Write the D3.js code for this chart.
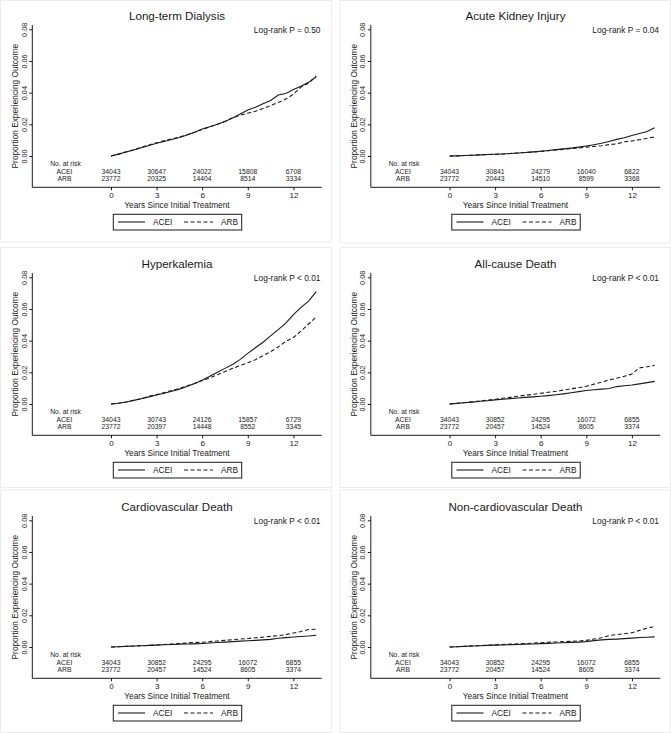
<!DOCTYPE html>
<html><head><meta charset="utf-8">
<script src="https://cdn.jsdelivr.net/npm/d3@7"></script>
<style>body{margin:0;background:#fff}svg{display:block;font-family:"Liberation Sans",Arial,sans-serif}</style>
</head><body>
<script>
// ---------- data ----------
const years = [0,0.5,1,1.5,2,2.5,3,3.5,4,4.5,5,5.5,6,6.5,7,7.5,8,8.5,9,9.5,10,10.5,11,11.5,12,12.5,13,13.5];
const xTicks = [0,3,6,9,12];
const yTicks = [0,0.02,0.04,0.06,0.08];
const groups = ["ACEI","ARB"];
const panelTitles = ["Long-term Dialysis","Acute Kidney Injury","Hyperkalemia","All-cause Death","Cardiovascular Death","Non-cardiovascular Death"];
const logRank = ["Log-rank P = 0.50","Log-rank P = 0.04","Log-rank P < 0.01","Log-rank P < 0.01","Log-rank P < 0.01","Log-rank P < 0.01"];

const dialysisACEI = [0,0.0012,0.0025,0.0038,0.0052,0.0066,0.0080,0.0092,0.0104,0.0117,0.0132,0.0150,0.0170,0.0185,0.0200,0.0218,0.0240,0.0265,0.0290,0.0308,0.0330,0.0350,0.0385,0.0395,0.0420,0.0440,0.0465,0.0500];
const dialysisARB  = [0,0.0012,0.0026,0.0040,0.0055,0.0070,0.0084,0.0097,0.0108,0.0120,0.0134,0.0150,0.0168,0.0184,0.0200,0.0220,0.0242,0.0258,0.0270,0.0283,0.0300,0.0318,0.0338,0.0360,0.0390,0.0435,0.0460,0.0505];
const akiACEI = [0,0.0001,0.0003,0.0005,0.0007,0.0009,0.0011,0.0013,0.0016,0.0019,0.0022,0.0026,0.0030,0.0035,0.0040,0.0045,0.0050,0.0056,0.0063,0.0071,0.0080,0.0092,0.0105,0.0115,0.0130,0.0142,0.0155,0.0178];
const akiARB  = [0,0.0001,0.0003,0.0005,0.0007,0.0009,0.0011,0.0013,0.0016,0.0019,0.0022,0.0025,0.0029,0.0033,0.0038,0.0042,0.0047,0.0051,0.0056,0.0060,0.0065,0.0072,0.0076,0.0090,0.0095,0.0103,0.0112,0.0120];
const hyperACEI = [0,0.0005,0.0013,0.0023,0.0033,0.0045,0.0057,0.0068,0.0080,0.0094,0.0110,0.0130,0.0150,0.0175,0.0200,0.0225,0.0250,0.0282,0.0320,0.0355,0.0390,0.0430,0.0470,0.0510,0.0565,0.0610,0.0650,0.0710];
const hyperARB  = [0,0.0005,0.0013,0.0024,0.0035,0.0048,0.0060,0.0072,0.0085,0.0098,0.0115,0.0130,0.0148,0.0165,0.0185,0.0205,0.0225,0.0243,0.0260,0.0280,0.0305,0.0330,0.0360,0.0395,0.0420,0.0460,0.0505,0.0550];
const deathACEI = [0,0.0004,0.0008,0.0012,0.0017,0.0021,0.0026,0.0030,0.0034,0.0038,0.0042,0.0045,0.0049,0.0053,0.0058,0.0064,0.0071,0.0078,0.0085,0.0090,0.0094,0.0098,0.0110,0.0115,0.0120,0.0127,0.0135,0.0143];
const deathARB  = [0,0.0004,0.0009,0.0014,0.0019,0.0024,0.0030,0.0036,0.0042,0.0049,0.0055,0.0061,0.0068,0.0074,0.0080,0.0088,0.0096,0.0103,0.0112,0.0125,0.0138,0.0152,0.0163,0.0175,0.0190,0.0228,0.0235,0.0245];
const cvACEI = [0,0.0002,0.0004,0.0006,0.0008,0.0010,0.0012,0.0014,0.0016,0.0018,0.0019,0.0020,0.0022,0.0025,0.0028,0.0031,0.0034,0.0037,0.0039,0.0042,0.0045,0.0048,0.0055,0.0059,0.0063,0.0066,0.0069,0.0074];
const cvARB  = [0,0.0002,0.0004,0.0006,0.0008,0.0010,0.0013,0.0016,0.0019,0.0022,0.0025,0.0028,0.0030,0.0034,0.0038,0.0042,0.0046,0.0050,0.0054,0.0058,0.0062,0.0067,0.0072,0.0078,0.0088,0.0098,0.0110,0.0112];
const noncvACEI = [0,0.0002,0.0004,0.0006,0.0008,0.0010,0.0012,0.0013,0.0015,0.0016,0.0018,0.0019,0.0021,0.0023,0.0025,0.0027,0.0029,0.0031,0.0034,0.0040,0.0045,0.0048,0.0050,0.0053,0.0056,0.0060,0.0062,0.0064];
const noncvARB  = [0,0.0002,0.0004,0.0007,0.0009,0.0011,0.0014,0.0016,0.0018,0.0020,0.0022,0.0024,0.0027,0.0030,0.0032,0.0034,0.0036,0.0038,0.0042,0.0050,0.0058,0.0072,0.0078,0.0084,0.0090,0.0105,0.0118,0.0130];

const riskDialysisACEI = ["34043","30647","24022","15808","6708"];
const riskDialysisARB  = ["23772","20325","14404","8514","3334"];
const riskAkiACEI = ["34043","30841","24279","16040","6822"];
const riskAkiARB  = ["23772","20443","14510","8599","3368"];
const riskHyperACEI = ["34043","30743","24126","15857","6729"];
const riskHyperARB  = ["23772","20397","14448","8552","3345"];
const riskDeathACEI = ["34043","30852","24295","16072","6855"];
const riskDeathARB  = ["23772","20457","14524","8605","3374"];

// ---------- assembly ----------
const panels = [
  {series:[dialysisACEI,dialysisARB], risk:[riskDialysisACEI,riskDialysisARB]},
  {series:[akiACEI,akiARB], risk:[riskAkiACEI,riskAkiARB]},
  {series:[hyperACEI,hyperARB], risk:[riskHyperACEI,riskHyperARB]},
  {series:[deathACEI,deathARB], risk:[riskDeathACEI,riskDeathARB]},
  {series:[cvACEI,cvARB], risk:[riskDeathACEI,riskDeathARB]},
  {series:[noncvACEI,noncvARB], risk:[riskDeathACEI,riskDeathARB]}
];

const W=671,H=733;
const ink="#1a1a1a";
const svg=d3.select("body").append("svg").attr("width",W).attr("height",H);
svg.append("rect").attr("width",W).attr("height",H).attr("fill","#fff");

const colX=[0,338.5], rowY=[0,248,491];
const borders=[[0.5,0.5,331,241.5],[340,0.5,330.5,242.5],[0.5,247.5,331,240],[340,247.5,330.5,240],[0.5,490,331,242.5],[340,490,330.5,242.5]];
borders.forEach(b=>svg.append("rect").attr("x",b[0]).attr("y",b[1]).attr("width",b[2]).attr("height",b[3])
  .attr("fill","none").attr("stroke","#ececec").attr("stroke-width",1));

const dashes=[null,"4,2.5"];

panels.forEach((p,i)=>{
  const g=svg.append("g").attr("transform",`translate(${colX[i%2]},${rowY[Math.floor(i/2)]})`);
  const x=d3.scaleLinear().domain([0,12]).range([111,293.4]);
  const y=d3.scaleLinear().domain([0,0.08]).range([156,29.3]);
  const axL=32.3, axR=321.7, axT=25, axB=187.3;

  // y axis
  const ya=g.append("g").attr("transform",`translate(${axL},0)`)
    .call(d3.axisLeft(y).tickValues(yTicks).tickSize(3).tickFormat(d3.format(".2f")));
  ya.select(".domain").remove();
  ya.selectAll("line").attr("stroke",ink);
  ya.selectAll("text").attr("transform","rotate(-90)").attr("x",0).attr("y",-5.6).attr("dy",null)
    .attr("text-anchor","middle").attr("font-size",7.3).attr("fill",ink).attr("font-family",null);
  g.append("line").attr("x1",axL).attr("x2",axL).attr("y1",axT).attr("y2",axB).attr("stroke",ink).attr("stroke-width",1);

  // x axis
  const xa=g.append("g").attr("transform",`translate(0,${axB})`)
    .call(d3.axisBottom(x).tickValues(xTicks).tickSize(3));
  xa.select(".domain").remove();
  xa.selectAll("line").attr("stroke",ink);
  xa.selectAll("text").attr("y",4.8).attr("font-size",8).attr("fill",ink).attr("font-family",null);
  g.append("line").attr("x1",axL).attr("x2",axR).attr("y1",axB).attr("y2",axB).attr("stroke",ink).attr("stroke-width",1);

  // curves
  p.series.forEach((s,k)=>{
    const line=d3.line().x((d,j)=>x(years[j])).y(d=>y(d));
    g.append("path").datum(s).attr("d",line).attr("fill","none").attr("stroke",ink)
      .attr("stroke-width",1.1).attr("stroke-dasharray",dashes[k]);
  });

  // titles
  g.append("text").attr("x",(axL+axR)/2).attr("y",20.2).attr("text-anchor","middle")
    .attr("font-size",11.6).attr("fill",ink).text(panelTitles[i]);
  g.append("text").attr("x",320.5).attr("y",32.8).attr("text-anchor","end")
    .attr("font-size",8.4).attr("fill",ink).text(logRank[i]);
  g.append("text").attr("transform",`translate(18,${(axT+axB)/2}) rotate(-90)`).attr("text-anchor","middle")
    .attr("font-size",8.3).attr("fill",ink).text("Proportion Experiencing Outcome");
  g.append("text").attr("x",(axL+axR)/2).attr("y",208.2).attr("text-anchor","middle")
    .attr("font-size",8.3).attr("fill",ink).text("Years Since Initial Treatment");

  // risk table
  const rt=g.append("g").attr("font-size",6.8).attr("fill",ink).attr("text-anchor","middle");
  rt.append("text").attr("x",65.5).attr("y",165.9).text("No. at risk");
  const rowYs=[173.7,181.4];
  groups.forEach((gr,k)=>{
    rt.append("text").attr("x",64.5).attr("y",rowYs[k]).text(gr);
    p.risk[k].forEach((v,j)=>rt.append("text").attr("x",x(xTicks[j])).attr("y",rowYs[k]).text(v));
  });

  // legend
  const lg=g.append("g");
  lg.append("rect").attr("x",113.3).attr("y",214.3).attr("width",128.4).attr("height",15.7)
    .attr("fill","none").attr("stroke",ink).attr("stroke-width",1);
  const lx=[[118,145,153],[184,213,221]];
  groups.forEach((gr,k)=>{
    lg.append("line").attr("x1",lx[k][0]).attr("x2",lx[k][1]).attr("y1",222).attr("y2",222)
      .attr("stroke",ink).attr("stroke-width",1.1).attr("stroke-dasharray",dashes[k]);
    lg.append("text").attr("x",lx[k][2]).attr("y",225).attr("font-size",8.3).attr("fill",ink).text(gr);
  });
});
</script>
</body></html>
